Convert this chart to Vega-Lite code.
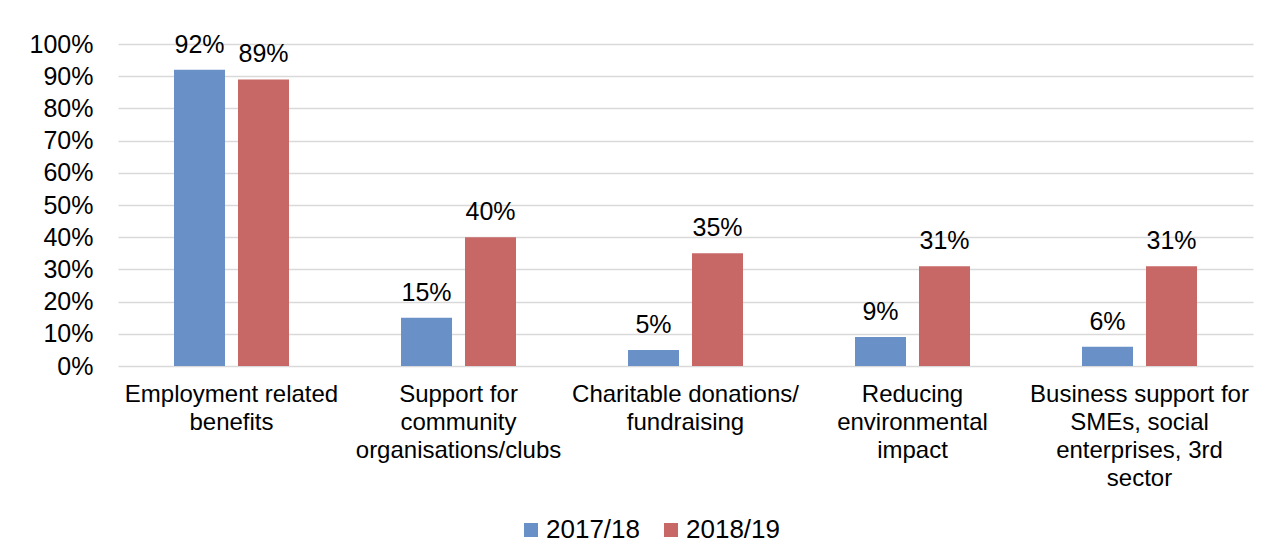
{
  "$schema": "https://vega.github.io/schema/vega-lite/v6.json",
  "width": 1135,
  "height": 322,
  "autosize": {"type": "none"},
  "padding": {"left": 118, "top": 44, "right": 17, "bottom": 193},
  "background": "white",
  "config": {
    "view": {"stroke": null},
    "font": "Liberation Sans",
    "text": {"font": "Liberation Sans"}
  },
  "data": {
    "values": [
      {"category": "Employment related\nbenefits", "year": "2017/18", "value": 0.92},
      {"category": "Employment related\nbenefits", "year": "2018/19", "value": 0.89},
      {"category": "Support for\ncommunity\norganisations/clubs", "year": "2017/18", "value": 0.15},
      {"category": "Support for\ncommunity\norganisations/clubs", "year": "2018/19", "value": 0.40},
      {"category": "Charitable donations/\nfundraising", "year": "2017/18", "value": 0.05},
      {"category": "Charitable donations/\nfundraising", "year": "2018/19", "value": 0.35},
      {"category": "Reducing\nenvironmental\nimpact", "year": "2017/18", "value": 0.09},
      {"category": "Reducing\nenvironmental\nimpact", "year": "2018/19", "value": 0.31},
      {"category": "Business support for\nSMEs, social\nenterprises, 3rd\nsector", "year": "2017/18", "value": 0.06},
      {"category": "Business support for\nSMEs, social\nenterprises, 3rd\nsector", "year": "2018/19", "value": 0.31}
    ]
  },
  "encoding": {
    "x": {
      "field": "category",
      "type": "nominal",
      "sort": null,
      "scale": {"paddingInner": 0.4934, "paddingOuter": 0.2467},
      "axis": {
        "title": null,
        "labelAngle": 0,
        "labelFontSize": 24,
        "labelColor": "#000000",
        "labelFont": "Liberation Sans",
        "ticks": false,
        "domain": false,
        "labelPadding": 16,
        "labelBaseline": "top",
        "labelLineHeight": 28,
        "labelLimit": 400,
        "labelOverlap": false,
        "labelExpr": "split(datum.label, '\\n')"
      }
    },
    "xOffset": {
      "field": "year",
      "type": "nominal",
      "scale": {"paddingInner": 0.203, "paddingOuter": 0}
    },
    "y": {
      "field": "value",
      "type": "quantitative",
      "scale": {"domain": [0, 1], "nice": false},
      "axis": {
        "title": null,
        "values": [0, 0.1, 0.2, 0.3, 0.4, 0.5, 0.6, 0.7, 0.8, 0.9, 1],
        "format": ".0%",
        "labelFontSize": 25,
        "labelColor": "#000000",
        "labelFont": "Liberation Sans",
        "ticks": false,
        "domain": false,
        "labelPadding": 25,
        "grid": true,
        "gridColor": "#d9d9d9",
        "gridWidth": 1.5
      }
    }
  },
  "layer": [
    {
      "mark": {"type": "bar"},
      "encoding": {
        "color": {
          "field": "year",
          "type": "nominal",
          "scale": {"domain": ["2017/18", "2018/19"], "range": ["#6990C7", "#C86866"]},
          "legend": {
            "orient": "none",
            "legendX": 400,
            "legendY": 473,
            "direction": "horizontal",
            "title": null,
            "symbolType": "square",
            "symbolSize": 196,
            "symbolStrokeWidth": 0,
            "labelFontSize": 26,
            "labelColor": "#000000",
            "labelFont": "Liberation Sans",
            "labelOffset": 2,
            "columnPadding": 18,
            "padding": 0
          }
        }
      }
    },
    {
      "mark": {"type": "text", "dy": -17, "baseline": "alphabetic", "fontSize": 25, "color": "#000000", "font": "Liberation Sans"},
      "encoding": {
        "text": {"field": "value", "type": "quantitative", "format": ".0%"}
      }
    }
  ]
}
